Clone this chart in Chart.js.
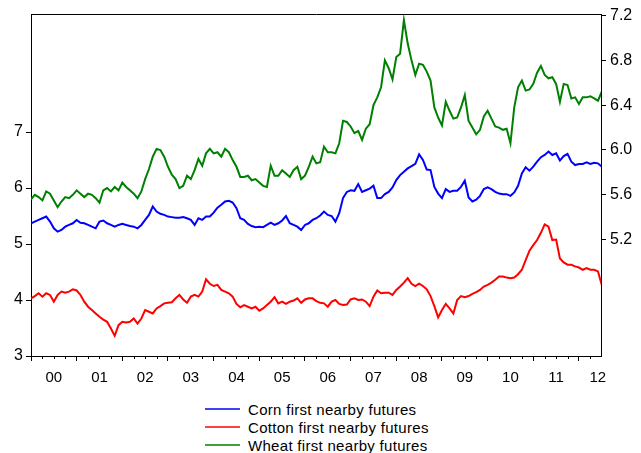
<!DOCTYPE html>
<html><head><meta charset="utf-8">
<script src="https://cdn.jsdelivr.net/npm/chart.js@4.4.1/dist/chart.umd.min.js"></script>
<style>
html,body{margin:0;padding:0;background:#fff;}
#wrap{position:relative;width:641px;height:453px;overflow:hidden;}
#cw{position:absolute;left:0;top:0;width:641px;height:395px;}
#legend{position:absolute;left:205px;top:400px;font:15px "Liberation Sans",Arial,sans-serif;color:#000;letter-spacing:0.3px;}
.row{height:18px;display:flex;align-items:center;white-space:nowrap;}
.row svg{flex:none;display:block;margin-right:8px;}
</style></head><body>
<div id="wrap"><div id="cw"><canvas id="c"></canvas></div><div id="legend"></div></div>
<script>
// monthly observation dates
const dates = [
'2000-01','2000-02','2000-03','2000-04','2000-05','2000-06','2000-07','2000-08','2000-09','2000-10','2000-11','2000-12',
'2001-01','2001-02','2001-03','2001-04','2001-05','2001-06','2001-07','2001-08','2001-09','2001-10','2001-11','2001-12',
'2002-01','2002-02','2002-03','2002-04','2002-05','2002-06','2002-07','2002-08','2002-09','2002-10','2002-11','2002-12',
'2003-01','2003-02','2003-03','2003-04','2003-05','2003-06','2003-07','2003-08','2003-09','2003-10','2003-11','2003-12',
'2004-01','2004-02','2004-03','2004-04','2004-05','2004-06','2004-07','2004-08','2004-09','2004-10','2004-11','2004-12',
'2005-01','2005-02','2005-03','2005-04','2005-05','2005-06','2005-07','2005-08','2005-09','2005-10','2005-11','2005-12',
'2006-01','2006-02','2006-03','2006-04','2006-05','2006-06','2006-07','2006-08','2006-09','2006-10','2006-11','2006-12',
'2007-01','2007-02','2007-03','2007-04','2007-05','2007-06','2007-07','2007-08','2007-09','2007-10','2007-11','2007-12',
'2008-01','2008-02','2008-03','2008-04','2008-05','2008-06','2008-07','2008-08','2008-09','2008-10','2008-11','2008-12',
'2009-01','2009-02','2009-03','2009-04','2009-05','2009-06','2009-07','2009-08','2009-09','2009-10','2009-11','2009-12',
'2010-01','2010-02','2010-03','2010-04','2010-05','2010-06','2010-07','2010-08','2010-09','2010-10','2010-11','2010-12',
'2011-01','2011-02','2011-03','2011-04','2011-05','2011-06','2011-07','2011-08','2011-09','2011-10','2011-11','2011-12',
'2012-01','2012-02','2012-03','2012-04','2012-05','2012-06','2012-07'
];
const seriesNames = ['Corn first nearby futures','Cotton first nearby futures','Wheat first nearby futures'];
const seriesColors = ['#0000ff','#ff0000','#008000'];

// left axis
const corn = [
5.37,5.40,5.43,5.46,5.49,5.40,5.28,5.22,5.25,5.31,5.34,5.37,
5.43,5.38,5.37,5.34,5.31,5.28,5.40,5.42,5.37,5.34,5.31,5.34,
5.36,5.34,5.32,5.31,5.28,5.34,5.43,5.52,5.67,5.58,5.54,5.52,
5.49,5.48,5.47,5.47,5.48,5.46,5.43,5.34,5.46,5.43,5.49,5.49,
5.56,5.65,5.70,5.76,5.77,5.74,5.64,5.46,5.43,5.36,5.32,5.30,
5.31,5.30,5.34,5.38,5.34,5.37,5.42,5.50,5.37,5.34,5.31,5.25,
5.34,5.37,5.43,5.46,5.51,5.58,5.52,5.50,5.40,5.55,5.82,5.93,
5.96,5.95,6.07,5.93,5.96,5.99,6.04,5.82,5.82,5.89,5.93,6.01,
6.14,6.23,6.29,6.35,6.39,6.43,6.60,6.50,6.33,6.32,6.02,5.90,
5.82,5.98,5.93,5.95,5.95,6.02,6.13,5.83,5.76,5.79,5.86,5.98,
6.01,5.98,5.93,5.90,5.89,5.89,5.86,5.92,6.04,6.26,6.37,6.31,
6.38,6.47,6.55,6.59,6.65,6.59,6.62,6.49,6.57,6.61,6.47,6.41,
6.43,6.43,6.46,6.43,6.45,6.44,6.38
];
const cotton = [
4.03,4.07,4.12,4.06,4.12,4.09,3.97,4.09,4.15,4.13,4.15,4.19,
4.17,4.09,3.97,3.88,3.82,3.76,3.70,3.65,3.61,3.49,3.36,3.55,
3.61,3.60,3.61,3.67,3.58,3.67,3.82,3.79,3.76,3.85,3.89,3.94,
3.95,3.96,4.03,4.09,4.01,3.95,4.06,4.09,4.06,4.15,4.37,4.29,
4.25,4.27,4.18,4.15,4.12,4.06,3.93,3.87,3.91,3.88,3.85,3.88,
3.81,3.85,3.91,3.97,4.05,3.94,3.97,3.93,3.97,3.99,4.03,3.95,
4.01,4.03,4.03,3.98,3.95,3.94,3.88,3.97,4.00,3.93,3.91,3.92,
4.01,4.03,4.00,4.01,3.97,3.89,4.06,4.17,4.12,4.13,4.13,4.09,
4.18,4.24,4.31,4.39,4.29,4.25,4.29,4.25,4.19,4.07,3.89,3.69,
3.82,3.93,3.85,3.76,4.00,4.07,4.05,4.07,4.11,4.14,4.18,4.24,
4.27,4.31,4.36,4.42,4.42,4.40,4.39,4.40,4.46,4.54,4.71,4.88,
4.98,5.07,5.20,5.35,5.31,5.07,5.08,4.74,4.67,4.63,4.63,4.60,
4.58,4.54,4.57,4.54,4.54,4.51,4.27
];
// right axis
const wheat = [
5.56,5.60,5.58,5.55,5.63,5.61,5.55,5.49,5.54,5.58,5.57,5.60,
5.64,5.61,5.58,5.61,5.60,5.57,5.53,5.64,5.66,5.63,5.67,5.64,
5.71,5.67,5.64,5.61,5.57,5.63,5.74,5.83,5.94,6.01,6.00,5.94,
5.85,5.78,5.74,5.66,5.68,5.77,5.74,5.82,5.92,5.86,5.97,6.01,
5.97,5.98,5.94,6.01,5.98,5.91,5.85,5.76,5.76,5.77,5.73,5.74,
5.71,5.68,5.67,5.86,5.77,5.77,5.82,5.79,5.76,5.82,5.85,5.74,
5.77,5.85,5.94,5.88,5.89,6.03,5.98,5.98,5.97,6.06,6.26,6.25,
6.21,6.15,6.17,6.09,6.19,6.23,6.40,6.47,6.56,6.80,6.73,6.63,
6.83,6.86,7.16,6.95,6.80,6.67,6.77,6.76,6.70,6.62,6.38,6.29,
6.22,6.43,6.35,6.28,6.29,6.38,6.49,6.26,6.20,6.14,6.18,6.30,
6.35,6.28,6.21,6.20,6.18,6.19,6.06,6.38,6.56,6.62,6.53,6.54,
6.59,6.69,6.75,6.67,6.64,6.65,6.59,6.43,6.59,6.58,6.46,6.47,
6.41,6.47,6.47,6.48,6.46,6.44,6.52
];

const yearLabels = ['00','01','02','03','04','05','06','07','08','09','10','11','12'];
const firstYear = 2000;
const leftTicks = [3,4,5,6,7];
const rightTicks = [5.2,5.6,6.0,6.4,6.8,7.2];

const toYear = d => { const [y,m] = d.split('-').map(Number); return y + (m-1)/12; };
const xs = dates.map(toYear);
const pts = arr => arr.map((v,i)=>({x:xs[i], y:v}));

const X_MIN = 2000, X_MAX = 2012.483;
const FONT = '"Liberation Sans", Arial, Helvetica, sans-serif';
Chart.defaults.font.family = FONT;
Chart.defaults.color = '#000';

const framePlugin = {
  id:'frame',
  afterDraw(chart){
    const {ctx, chartArea:a, scales} = chart;
    ctx.save();
    ctx.strokeStyle = '#000'; ctx.lineWidth = 1;
    ctx.beginPath();
    ctx.moveTo(Math.round(a.left), Math.round(a.top)+0.5);
    ctx.lineTo(Math.round(a.right)+1, Math.round(a.top)+0.5);
    ctx.stroke();
    // minor quarterly ticks
    const xsC = scales.x;
    ctx.beginPath();
    for (let k=0;k<yearLabels.length;k++){
      for (const q of [0.25,0.5,0.75]){
        const v = firstYear + k + q;
        if (v > X_MAX) continue;
        const px = Math.round(xsC.getPixelForValue(v)) + 0.5;
        ctx.moveTo(px, Math.round(a.bottom));
        ctx.lineTo(px, Math.round(a.bottom)+3);
      }
    }
    ctx.stroke();
    ctx.restore();
  }
};

const ds = [corn, cotton, wheat].map((arr,i)=>({
  label: seriesNames[i],
  data: pts(arr),
  borderColor: seriesColors[i],
  backgroundColor: seriesColors[i],
  borderWidth: 2,
  borderJoinStyle: 'miter',
  pointRadius: 0,
  tension: 0,
  yAxisID: i===2 ? 'yR' : 'yL'
}));

const chart = new Chart(document.getElementById('c'), {
  type:'line',
  data:{datasets: ds},
  options:{
    responsive:true, maintainAspectRatio:false, animation:false, devicePixelRatio:1,
    events:[],
    layout:{padding:{top:14,left:0,right:0,bottom:0}},
    plugins:{legend:{display:false}, tooltip:{enabled:false}},
    scales:{
      x:{
        type:'linear', position:'bottom', min:X_MIN, max:X_MAX,
        afterBuildTicks(s){
          const t=[];
          yearLabels.forEach((lab,k)=>{
            t.push({value: firstYear+k});
            const mid = Math.min(firstYear+k+0.5, X_MAX-0.07);
            t.push({value: mid, label: lab});
          });
          s.ticks = t;
        },
        afterFit(s){ s.height = 39; },
        ticks:{
          autoSkip:false, maxRotation:0, minRotation:0, padding:8,
          font:{size:15, family:FONT}, color:'#000',
          callback(v){
            if (Number.isInteger(v)) return '';
            const k = Math.floor(v) - firstYear;
            return yearLabels[k];
          }
        },
        grid:{display:true, drawOnChartArea:false, drawTicks:true, tickLength:5,
          tickColor: c => (c.tick && Number.isInteger(c.tick.value)) ? '#000' : 'rgba(0,0,0,0)', tickWidth:1},
        border:{display:true, color:'#000', width:1}
      },
      yL:{
        type:'linear', position:'left', min:3, max:3+342/56,
        afterBuildTicks(s){ s.ticks = leftTicks.map(v=>({value:v})); },
        afterFit(s){ s.width = 31; },
        ticks:{font:{size:16, family:FONT}, color:'#000', padding:3, callback:v=>String(v)},
        grid:{display:true, drawOnChartArea:false, tickLength:5, tickColor:'#000'},
        border:{display:true, color:'#000', width:1}
      },
      yR:{
        type:'linear', position:'right', min:4.161, max:7.214,
        afterBuildTicks(s){ s.ticks = rightTicks.map(v=>({value:v})); },
        afterFit(s){ s.width = 40; },
        ticks:{font:{size:16, family:FONT}, color:'#000', padding:4, callback:v=>Number(v).toFixed(1)},
        grid:{display:true, drawOnChartArea:false, tickLength:5, tickColor:'#000'},
        border:{display:true, color:'#000', width:1}
      }
    }
  },
  plugins:[framePlugin]
});

// legend as real text, built from the chart's datasets
const SVGNS = 'http://www.w3.org/2000/svg';
const lg = document.getElementById('legend');
chart.data.datasets.forEach((d,i)=>{
  const row = document.createElement('div'); row.className='row';
  const svg = document.createElementNS(SVGNS,'svg');
  svg.setAttribute('width','35'); svg.setAttribute('height','4');
  const ln = document.createElementNS(SVGNS,'line');
  ln.setAttribute('x1','0'); ln.setAttribute('x2','35');
  ln.setAttribute('y1','2'); ln.setAttribute('y2','2');
  ln.setAttribute('stroke', seriesColors[i]); ln.setAttribute('stroke-width','1.4');
  svg.appendChild(ln);
  const tx = document.createElement('span'); tx.textContent = d.label;
  row.appendChild(svg); row.appendChild(tx); lg.appendChild(row);
});
</script>
</body></html>
